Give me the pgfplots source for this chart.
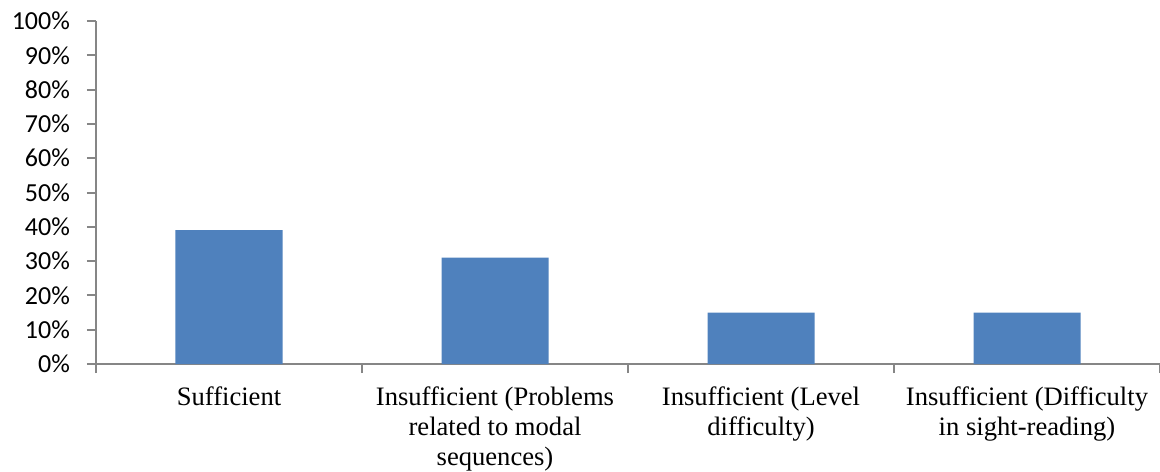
\documentclass[border=0pt]{standalone}
\usepackage{pgfplots}
\pgfplotsset{compat=1.18}
\usepackage{fontspec}
\setmainfont{Liberation Serif}
\newfontfamily\calibri{Carlito}
\definecolor{barblue}{HTML}{4F81BD}
\definecolor{axisgray}{HTML}{868686}
\begin{document}
\begin{tikzpicture}
\begin{axis}[
  at={(0,0)}, anchor=south west,
  scale only axis,
  width=532pt, height=171.5pt,
  xmin=-0.5, xmax=3.5,
  ymin=0, ymax=100,
  axis x line*=bottom,
  axis y line*=left,
  axis line style={axisgray, line width=1pt},
  ybar, bar width=53.5pt,
  ytick={0,10,...,100},
  yticklabels={0\%,10\%,20\%,30\%,40\%,50\%,60\%,70\%,80\%,90\%,100\%},
  yticklabel style={font=\calibri\fontsize{13}{15}\selectfont, xshift=-5pt},
  ytick style={axisgray, line width=1pt},
  tick align=outside,
  major tick length=4.5pt,
  xtick={0,1,2,3},
  xticklabels={Sufficient,
    {Insufficient (Problems\\related to modal\\sequences)},
    {Insufficient (Level\\difficulty)},
    {Insufficient (Difficulty\\in sight-reading)}},
  xticklabel style={font=\fontsize{13.3}{15}\selectfont, align=center, yshift=-3.5pt},
  x tick style={draw=none},
  extra x ticks={-0.5,0.5,1.5,2.5,3.5},
  extra x tick labels={},
  extra x tick style={x tick style={axisgray, line width=1pt, draw=axisgray}},
]
\addplot[fill=barblue, draw=none] coordinates {(0,39) (1,31) (2,15) (3,15)};
\end{axis}
\pgfresetboundingbox
\path (-48pt,-53.5pt) rectangle (532pt,182pt);
\end{tikzpicture}
\end{document}
